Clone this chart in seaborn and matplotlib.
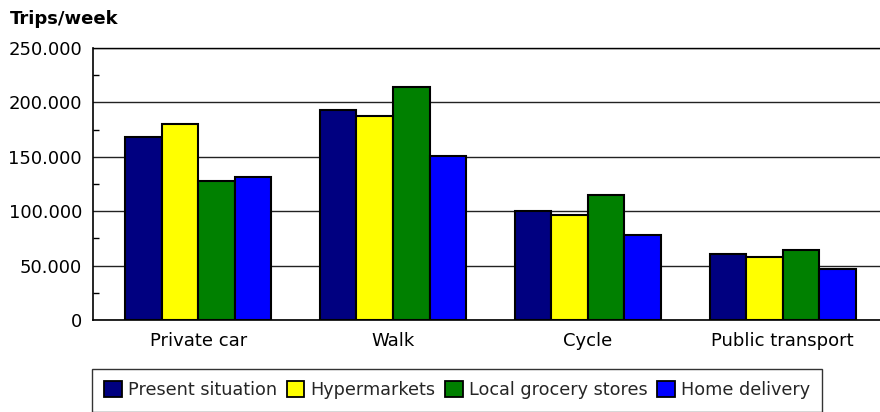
import matplotlib
matplotlib.use("Agg")
import matplotlib.pyplot as plt
import seaborn as sns
import pandas as pd
from matplotlib.ticker import FuncFormatter, MultipleLocator
from matplotlib.patches import Patch

categories = ["Private car", "Walk", "Cycle", "Public transport"]
scenarios = ["Present situation", "Hypermarkets", "Local grocery stores", "Home delivery"]
present_situation = [168000, 193000, 100000, 60700]
hypermarkets = [180000, 187500, 96500, 57500]
local_grocery = [127500, 214000, 115000, 64500]
home_delivery = [131000, 151000, 78000, 47300]
colors = ["#000080", "#FFFF00", "#008000", "#0000FF"]
y_ticks = [0, 50000, 100000, 150000, 200000, 250000]

rows = []
for name, vals in zip(scenarios, [present_situation, hypermarkets, local_grocery, home_delivery]):
    for c, v in zip(categories, vals):
        rows.append({"Mode": c, "Scenario": name, "Trips": v})
df = pd.DataFrame(rows)

sns.set_theme(style="white")
plt.rcParams["font.family"] = ["DejaVu Sans"]

fig = plt.figure(figsize=(8.8, 4.12), dpi=100)
ax = fig.add_axes([93 / 880, 1 - 320 / 412, 1 - 93 / 880, (320 - 48) / 412])

sns.barplot(data=df, x="Mode", y="Trips", hue="Scenario", order=categories,
            hue_order=scenarios, palette=colors, width=0.75, saturation=1,
            edgecolor="black", linewidth=1.5, ax=ax, legend=False, zorder=3)

ax.set_xlim(-0.54, 3.5)
ax.set_ylim(0, 250000)
ax.set_yticks(y_ticks)
ax.yaxis.set_major_formatter(FuncFormatter(lambda v, p: f"{int(v):,}".replace(",", ".")))
ax.yaxis.set_minor_locator(MultipleLocator(25000))
ax.tick_params(axis="y", which="major", length=0, pad=8, labelsize=13, colors="black")
ax.tick_params(axis="y", which="minor", left=True, length=4, direction="in", width=1, color="black")
ax.tick_params(axis="x", length=0, pad=9, labelsize=13, colors="black")
ax.grid(axis="y", which="major", color="#222222", linewidth=1, zorder=0)
ax.set_axisbelow(True)
ax.set_xlabel("")
ax.set_ylabel("")
for s in ["left", "bottom", "top"]:
    ax.spines[s].set_visible(True)
    ax.spines[s].set_color("black")
    ax.spines[s].set_linewidth(1.2)
ax.spines["right"].set_visible(False)
ax.spines["top"].set_linewidth(1.0)

fig.text(10 / 880, 1 - 19 / 412, "Trips/week", fontsize=13, fontweight="bold",
         va="center", ha="left", color="black")

handles = [Patch(facecolor=c, edgecolor="black", linewidth=1.3, label=s)
           for c, s in zip(colors, scenarios)]
leg = fig.legend(handles=handles, loc="upper left", bbox_to_anchor=(92 / 880, 1 - 369 / 412),
                 ncol=4, frameon=True, fancybox=False, shadow=False,
                 prop={"family": "DejaVu Sans", "size": 12.7},
                 handlelength=1.0, handleheight=1.0, handletextpad=0.34,
                 columnspacing=0.55, borderpad=0.7, borderaxespad=0)
leg.get_frame().set_edgecolor("black")
leg.get_frame().set_linewidth(1.0)

fig.savefig("out.png", dpi=100)
